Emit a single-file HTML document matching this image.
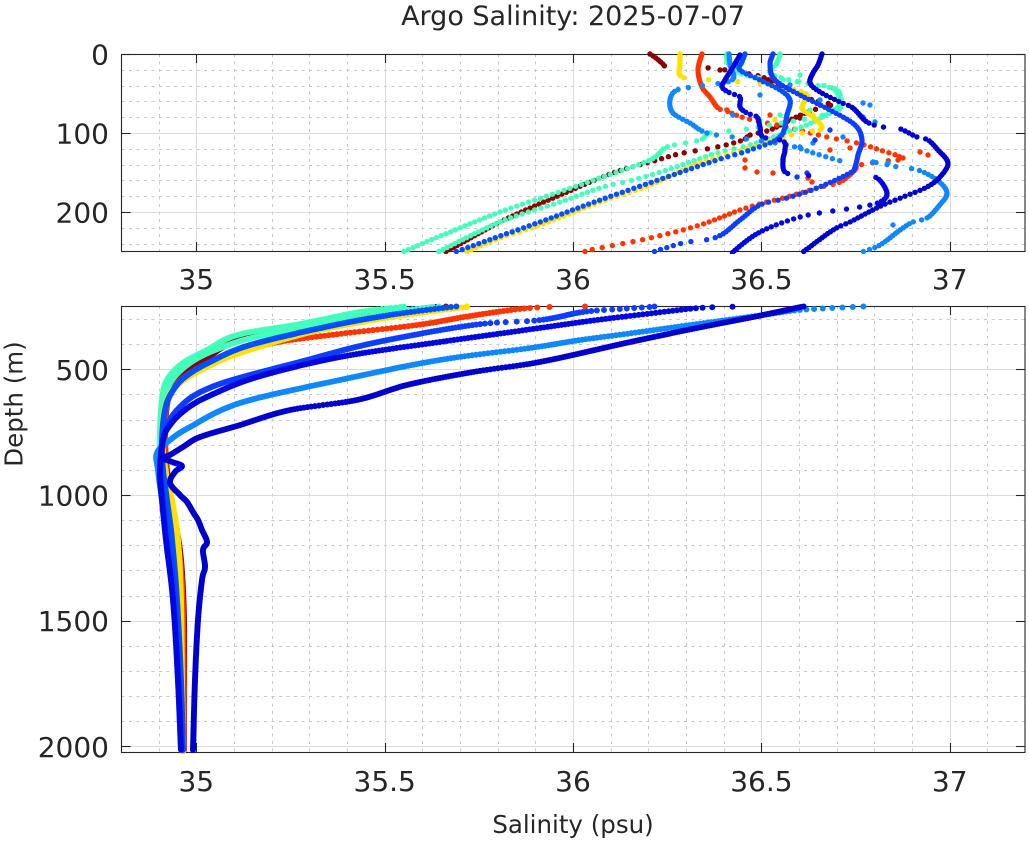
<!DOCTYPE html>
<html>
<head>
<meta charset="utf-8">
<style>
html,body{margin:0;padding:0;background:#fff;}
svg{display:block;}
text{font-family:"DejaVu Sans","Liberation Sans",sans-serif;fill:#262626;}
</style>
</head>
<body>
<svg id="fig" xmlns="http://www.w3.org/2000/svg" width="1029" height="841" viewBox="0 0 1029 841">
<rect x="0" y="0" width="1029" height="841" fill="#fff"/>
<defs>
<clipPath id="ctop"><rect x="121" y="51" width="905" height="203"/></clipPath>
<clipPath id="cbot"><rect x="121" y="303" width="905" height="452"/></clipPath>
</defs>
<g id="grid"></g>
<g id="axes"></g>
<g id="dtop" clip-path="url(#ctop)"></g>
<g id="dbot" clip-path="url(#cbot)"></g>
<text x="573" y="25" font-size="27" text-anchor="middle">Argo Salinity: 2025-07-07</text>
<g font-size="28" text-anchor="middle">
<text x="196.3" y="289">35</text>
<text x="384.7" y="289">35.5</text>
<text x="573" y="289">36</text>
<text x="761.4" y="289">36.5</text>
<text x="949.7" y="289">37</text>
<text x="196.3" y="791">35</text>
<text x="384.7" y="791">35.5</text>
<text x="573" y="791">36</text>
<text x="761.4" y="791">36.5</text>
<text x="949.7" y="791">37</text>
</g>
<g font-size="28" text-anchor="end">
<text x="109" y="64.5">0</text>
<text x="109" y="143.5">100</text>
<text x="109" y="222.5">200</text>
<text x="109" y="379.8">500</text>
<text x="109" y="505.5">1000</text>
<text x="109" y="631.2">1500</text>
<text x="109" y="757">2000</text>
</g>
<text x="573" y="833" font-size="24.5" text-anchor="middle">Salinity (psu)</text>
<text transform="translate(22.5,404) rotate(-90)" font-size="24.5" text-anchor="middle">Depth (m)</text>
</svg>
<script>
(function(){
var NS='http://www.w3.org/2000/svg';
function el(tag,attrs,parent){var e=document.createElementNS(NS,tag);for(var k in attrs)e.setAttribute(k,attrs[k]);parent.appendChild(e);return e;}
var grid=document.getElementById('grid'),axes=document.getElementById('axes');
function X(s){return 121+(s-34.8)*376.7;}
var L=121.5,R=1025;
var panels=[{t:54,b:251,minor:[],major:[100,200],Y:function(d){return 54+d*0.79;}},
            {t:306,b:752,minor:[],major:[500,1000,1500,2000],Y:function(d){return 306.5+(d-250)*0.2514;}}];
for(var d=20;d<250;d+=20){if(d%100)panels[0].minor.push(d);}
for(var d=300;d<=2000;d+=100){if(d%500)panels[1].minor.push(d);}
var majS=[35,35.5,36,36.5,37];
panels.forEach(function(p){
  for(var k=1;k<24;k++){var s=34.8+k*0.1;var r=Math.round(s*10);if(r%5===0)continue;
    var x=Math.round(X(s))+0.5;el('line',{x1:x,y1:p.t,x2:x,y2:p.b,stroke:'#c8c8c8','stroke-width':1,'stroke-dasharray':'3 4.5'},grid);}
  p.minor.forEach(function(d){var y=Math.round(p.Y(d))+0.5;el('line',{x1:L,y1:y,x2:R,y2:y,stroke:'#c8c8c8','stroke-width':1,'stroke-dasharray':'3 4.5'},grid);});
  majS.forEach(function(s){var x=Math.round(X(s))+0.5;el('line',{x1:x,y1:p.t,x2:x,y2:p.b,stroke:'#dcdcdc','stroke-width':1},grid);});
  p.major.forEach(function(d){var y=Math.round(p.Y(d))+0.5;el('line',{x1:L,y1:y,x2:R,y2:y,stroke:'#dcdcdc','stroke-width':1},grid);});
  el('rect',{x:L,y:p.t+0.5,width:R-L,height:p.b-p.t,fill:'none',stroke:'#262626','stroke-width':1.1},axes);
  majS.forEach(function(s){var x=Math.round(X(s))+0.5;
    el('line',{x1:x,y1:p.t,x2:x,y2:p.t+9,stroke:'#262626','stroke-width':1.1},axes);
    el('line',{x1:x,y1:p.b,x2:x,y2:p.b-9,stroke:'#262626','stroke-width':1.1},axes);});
  var ys=(p===panels[0])?[0,100,200]:[500,1000,1500,2000];
  ys.forEach(function(d){var y=Math.round(p.Y(d))+0.5;
    el('line',{x1:L,y1:y,x2:L+9,y2:y,stroke:'#262626','stroke-width':1.1},axes);
    el('line',{x1:R,y1:y,x2:R-9,y2:y,stroke:'#262626','stroke-width':1.1},axes);});
});

function sOf(x){return 34.8+(x-121)/376.7;}
var P=[
 {c:'#8c0000',top:[[650,54],[656,58],[663,64],[666,66],[710,68],[755,75],[773,82],[790,90],[813,100],[830,104],[826,108],[813,110],[790,120],[770,130],[750,135],[743,140],[717,147],[683,153],[657,160],[613,173],[560,195],[500,222],[447,251]],
  bot:[[440,306.5],[380,314],[323,323],[240,340],[207,358],[185,372],[173,387],[167,405],[165,440],[168,480],[175,520],[181,560],[184,620],[184,700],[184,750]]},
 {c:'#ff3500',top:[[702,54],[698,70],[702,87],[710,97],[718,108],[727,111],[745,118],[790,128],[827,137],[857,143],[880,150],[900,158],[870,163],[857,166],[855,170],[840,182],[817,188],[787,197],[767,202],[740,210],[700,225],[650,238],[605,247],[585,251]],
  bot:[[585,306.5],[530,308],[470,316],[417,325],[330,335],[273,343],[223,357],[190,373],[172,390],[166,410],[165,440],[167,480],[173,520],[180,560],[183,620],[184,750]]},
 {c:'#44ffbb',top:[[727,54],[728,63],[740,73],[760,78],[787,80],[807,83],[830,87],[837,93],[840,105],[813,122],[787,132],[750,145],[717,153],[667,170],[633,180],[603,187],[560,202],[500,222],[440,251]],
  bot:[[437,306.5],[380,314],[320,325],[255,337],[215,350],[190,363],[172,380],[164,400],[161,433],[162,470],[166,500],[172,540],[176,580],[179,620],[181,680],[182,750]]},
 {c:'#44ffbb',top:[[780,54],[777,63],[770,73],[790,80],[815,85],[837,90],[840,100],[838,110],[810,118],[770,125],[740,130],[710,133],[700,140],[667,147],[650,160],[600,178],[550,195],[500,212],[450,232],[405,251]],
  bot:[[405,306.5],[360,312],[300,324],[237,335],[207,350],[183,363],[167,380],[162,400],[160,433],[161,470],[165,500],[172,540],[176,580],[179,620],[181,680],[182,750]]},
 {c:'#ffe000',top:[[680,54],[680,65],[682,77],[713,80],[763,84],[805,93],[803,104],[803,110],[813,117],[822,128],[807,132],[783,137],[750,148],[700,163],[650,185],[600,202],[540,225],[500,238],[468,251]],
  bot:[[470,306.5],[420,313],[373,320],[307,333],[240,353],[207,367],[180,383],[167,400],[162,433],[165,467],[172,500],[178,540],[181,600],[182,680],[183,752]]},
 {c:'#0f87ff',top:[[729,54],[730,65],[732,80],[700,86],[677,90],[670,100],[673,113],[690,123],[707,133],[740,138],[787,145],[820,155],[847,162],[875,162.5],[898,167],[918,170],[937,180],[947,193],[938,207],[927,218],[913,222],[900,230],[880,245],[862,252]],
  bot:[[863,306.5],[800,310],[763,315],[690,325],[640,332],[580,340],[530,348],[440,360],[340,380],[240,403],[190,427],[170,440],[157,453],[158,470],[162,500],[168,540],[174,600],[178,680],[181,750]]},
 {c:'#0050ff',top:[[745,54],[742,62],[740,70],[760,80],[780,90],[790,100],[787,115],[780,137],[750,150],[717,160],[667,177],[600,200],[540,222],[500,236],[458,251]],
  bot:[[455,306.5],[390,315],[330,326],[250,345],[210,362],[185,377],[172,392],[165,410],[162,440],[163,470],[167,500],[172,540],[177,600],[181,680],[183,750]]},
 {c:'#0d3dff',top:[[773,54],[770,65],[775,80],[800,95],[830,110],[855,125],[862,140],[858,155],[855,167],[850,173],[817,188],[787,198],[760,205],[740,220],[717,237],[683,243],[653,252]],
  bot:[[657,306.5],[620,309],[583,312],[540,320],[473,325],[373,343],[300,362],[250,375],[217,385],[195,395],[180,407],[170,420],[163,440],[161,470],[163,500],[168,540],[175,600],[179,680],[182,750]]},
 {c:'#0008dd',top:[[740,55],[733,67],[725,80],[722,87],[730,93],[740,97],[740,107],[747,113],[757,117],[760,127],[763,137],[783,141],[785,150],[783,160],[785,172],[800,175],[830,176],[860,177],[877,178],[887,193],[880,202],[860,207],[833,211],[800,217],[760,232],[733,252]],
  bot:[[737,306.5],[700,308],[663,312],[597,320],[540,328],[440,342],[340,357],[257,377],[207,397],[185,410],[170,425],[163,440],[160,470],[162,500],[166,540],[173,600],[178,680],[181,750]]},
 {c:'#0000cc',top:[[822,54],[818,65],[813,73],[810,83],[820,92],[840,102],[853,108],[867,122],[883,127],[898,128],[917,137],[928,140],[938,150],[948,163],[940,177],[927,187],[903,197],[883,205],[867,213],[850,222],[833,230],[803,252]],
  bot:[[803,306.5],[763,315],[697,328],[630,342],[540,362],[473,372],[407,385],[357,400],[290,410],[240,425],[200,437],[183,447],[170,455],[163,458],[172,462],[182,466],[175,472],[170,483],[180,495],[187,502],[193,512],[198,520],[202,530],[207,542],[203,550],[205,567],[202,580],[198,620],[195,680],[193,750]]}
];
var extras={
 '#ff3500':[[745,168],[757,172],[773,173],[808,178],[812,182],[830,150],[850,148],[898,160],[903,158],[920,152],[928,155],[727,110],[770,115],[745,160]],
 '#0f87ff':[[853,108],[863,103],[870,105],[863,117],[875,122],[733,115],[760,95],[790,85],[820,100],[800,147],[813,143],[843,137],[873,162],[888,163],[900,230],[893,225]],
 '#ffe000':[[800,95],[803,105],[813,115],[820,130],[775,120]],
 '#8c0000':[[720,70],[820,105],[800,118]],
 '#0d3dff':[[807,173],[797,177],[783,160],[815,140],[830,130]],
 '#44ffbb':[[800,75],[810,110],[780,115],[760,120]]
};
function dot(x,y,r){return 'M'+(x-r).toFixed(1)+' '+y.toFixed(1)+'a'+r+' '+r+' 0 1 0 '+(2*r)+' 0a'+r+' '+r+' 0 1 0 '+(-2*r)+' 0';}
function step(d){return d<250?2.5:(d<1000?2:3);}
function cr(pts){
  var n=pts.length,out=[pts[0]];
  for(var i=0;i<n-1;i++){
    var p0=pts[Math.max(i-1,0)],p1=pts[i],p2=pts[i+1],p3=pts[Math.min(i+2,n-1)];
    for(var k=1;k<=16;k++){
      var t=k/16,t2=t*t,t3=t2*t,q=[];
      for(var j=0;j<2;j++){
        q.push(0.5*((2*p1[j])+(-p0[j]+p2[j])*t+(2*p0[j]-5*p1[j]+4*p2[j]-p3[j])*t2+(-p0[j]+3*p1[j]-3*p2[j]+p3[j])*t3));
      }
      out.push(q);
    }
  }
  return out;
}
var gt=document.getElementById('dtop'),gb=document.getElementById('dbot');
P.forEach(function(p){
  var raw=p.top.map(function(a){return [sOf(a[0]),(a[1]-54)/0.79];}).concat(p.bot.map(function(a){return [sOf(a[0]),250+(a[1]-306.5)/0.2514];}));
  var pts=cr(raw);
  var out=[],next=pts[0][1];
  for(var i=0;i<pts.length-1;i++){
    var s0=pts[i][0],d0=pts[i][1],s1=pts[i+1][0],d1=pts[i+1][1];
    while(next<=d1){
      if(next>=d0){var t=(d1>d0)?(next-d0)/(d1-d0):0;out.push([s0+t*(s1-s0),next]);}
      next+=step(next);
    }
  }
  var pt='',pb='';
  out.forEach(function(q){
    var x=X(q[0]);
    if(q[1]<=251.5)pt+=dot(x,54+q[1]*0.79,2.7);
    if(q[1]>=249)pb+=dot(x,306.5+(q[1]-250)*0.2514,3);
  });
  var ex=extras[p.c];
  if(ex){ex.forEach(function(a){pt+=dot(a[0],a[1],2.7);});delete extras[p.c];}
  el('path',{d:pt,fill:p.c},gt);
  el('path',{d:pb,fill:p.c},gb);
});
})();
</script>
</body>
</html>
